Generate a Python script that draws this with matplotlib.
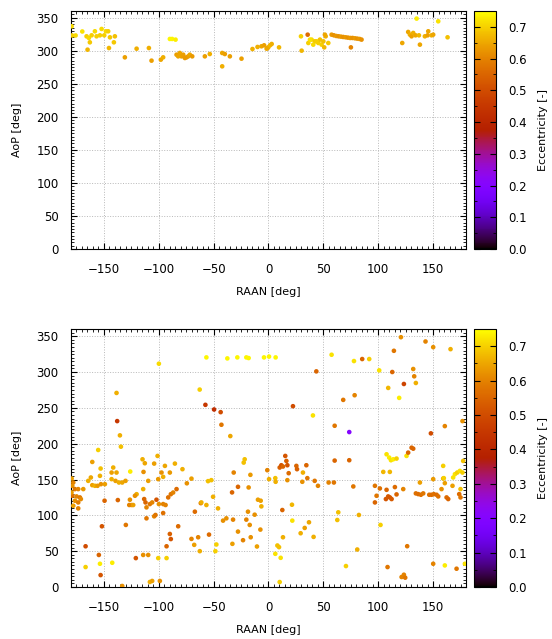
import numpy as np
import matplotlib
matplotlib.use("Agg")
import matplotlib.pyplot as plt
from matplotlib.ticker import MultipleLocator

# ---------------- data ----------------
# top panel
raan_top = [-179.4, -179.0, -175.8, -169.7, -165.8, -163.7, -162.8, -164.9, -161.2, -158.2,
            -156.7, -153.6, -152.1, -149.7, -148.2, -146.1, -144.5, -145.4, -140.9, -140.0,
            -130.9, -120.2, -109.0, -106.6, -98.1, -96.0, -89.9, -87.8, -84.7,
            -83.8, -80.8, -77.7, -74.7, -73.2, -71.7, -69.5, -79.3, -76.2, -82.3,
            -58.0, -53.5, -42.2, -39.8, -35.2, -42.2, -24.6,
            -14.6, -10.0, -6.4, -4.0, -0.9, -0.2, 1.4, -1.7, 2.9, 9.6,
            29.6, 30.2, 35.7, 36.3, 39.3, 42.3, 45.4, 46.9, 48.4, 40.8, 37.8, 50.0, 52.1, 54.5,
            50.8, 43.9, 51.4,
            57.5, 59.6, 61.8, 63.9, 66.0, 68.1, 70.3, 72.4, 74.5, 76.6, 78.8, 80.9, 83.0, 84.8,
            75.1, 121.9, 127.3, 128.9, 130.4, 131.9, 134.0, 137.1, 138.0, 142.5, 145.6, 145.0,
            148.6, 150.1, 135.0, 154.7, 163.2]
aop_top = [336.9, 323.0, 323.0, 329.0, 321.7, 319.2, 312.6, 301.5, 323.2, 329.3,
           321.7, 323.2, 332.8, 323.2, 329.3, 329.3, 320.2, 304.0, 312.6, 321.7,
           289.9, 303.0, 304.0, 284.9, 286.4, 289.9, 317.7, 317.7, 316.7,
           293.9, 296.5, 293.9, 289.9, 291.4, 293.9, 291.4, 291.4, 288.9, 291.4,
           291.4, 294.9, 296.5, 294.9, 291.4, 276.3, 287.9,
           302.5, 305.6, 306.6, 308.1, 304.0, 305.0, 308.1, 303.0, 310.1, 305.0,
           321.7, 300.0, 324.2, 311.6, 316.7, 314.1, 311.6, 316.7, 309.1, 309.1, 316.7, 314.1,
           321.7, 311.6, 305.0, 314.1, 324.2,
           324.2, 323.2, 322.2, 321.7, 321.2, 320.7, 320.2, 319.7, 319.2, 319.2, 318.7, 318.2,
           317.7, 316.7,
           305.0, 311.6, 328.3, 324.2, 321.7, 326.8, 323.2, 323.2, 309.1, 321.7, 329.3, 323.2,
           323.2, 324.2, 348.5, 344.4, 320.2]
ecc_top = [0.71, 0.70, 0.71, 0.72, 0.70, 0.71, 0.69, 0.67, 0.70, 0.71,
           0.70, 0.70, 0.71, 0.70, 0.71, 0.70, 0.69, 0.67, 0.69, 0.68,
           0.64, 0.66, 0.66, 0.64, 0.65, 0.66, 0.74, 0.74, 0.73,
           0.64, 0.65, 0.64, 0.63, 0.64, 0.65, 0.63, 0.64, 0.63, 0.65,
           0.64, 0.66, 0.65, 0.64, 0.64, 0.66, 0.64,
           0.66, 0.66, 0.65, 0.64, 0.65, 0.66, 0.67, 0.65, 0.66, 0.67,
           0.70, 0.67, 0.56, 0.70, 0.71, 0.69, 0.70, 0.68, 0.70, 0.71, 0.72, 0.68, 0.66, 0.69,
           0.67, 0.70, 0.65,
           0.63, 0.62, 0.63, 0.62, 0.63, 0.62, 0.63, 0.62, 0.63, 0.62, 0.63, 0.62, 0.63, 0.62,
           0.60, 0.65, 0.65, 0.66, 0.64, 0.66, 0.65, 0.67, 0.65, 0.66, 0.65, 0.64,
           0.66, 0.65, 0.73, 0.72, 0.68]

# bottom panel
raan_bot = [-99.9, -138.5, -137.9, -135.4, -134.5, -155.2, -160.6, -153.0, -153.6, -141.5,
            -143.0, -138.5, -126.0, -114.8, -112.7, -101.1, -94.4, -89.9, -85.3, -78.4,
            -104.2, -97.5, -96.0, -100.5, -113.9, -109.6, -70.2, -74.4, -61.7,
            -179.4, -177.9, -178.8, -176.4, -173.4, -168.8, -178.8, -174.9, -171.9, -176.4,
            -173.4, -171.0, -173.4, -179.5, -177.9,
            -164.3, -161.9, -160.6, -158.2, -155.8, -152.7, -149.1, -143.0, -139.4, -136.3,
            -133.3, -130.3, -149.4, -137.3, -126.3, -124.8, -126.9, -123.3,
            -120.2, -121.7, -114.2, -113.3, -112.1, -111.2, -108.1, -106.0, -102.1, -99.9,
            -96.0, -93.8, -91.4, -89.0, -86.9, -83.8,
            -111.2, -104.2, -103.0, -96.0, -82.3, -89.9, -89.0, -92.9, -130.0, -151.8,
            -166.7, -154.6, -153.6, -166.7, -142.4, -153.0, -120.9, -114.2, -109.6, -100.5,
            -92.9, -133.3, -108.1, -106.0, -99.0, -67.1, -70.2, -67.7, -64.1, -62.6,
            -56.6, -37.5, -28.4, -20.2, -18.1, -4.1, 0.5, 6.5, -62.7, -57.5,
            -49.6, -43.6, -42.9, -34.8, 43.6, 22.3, 40.5, -21.7, -22.6, -31.7,
            -16.5, -27.8, -33.2, -18.1, -55.1, -52.1, -50.5, -61.2, -56.6, -46.0,
            -9.6, -7.1, -6.5, -41.4, -38.4, -32.3, -18.7, -20.2, -17.1, -12.6,
            -7.4, -27.8, -23.2, -32.9, -16.2, -10.5, -54.2, -47.5, -48.4,
            -1.1, 0.5, 6.2, 6.5, 17.2, 12.6, 21.4, 21.7,
            10.2, 11.7, 13.2, 15.3, 16.3, 17.2, 18.4, 25.4, 26.0, 31.4, 34.5, 35.4, 30.8, 42.1,
            45.1, 54.8,
            29.3, 33.0, 36.9, 41.1, 13.2, 6.2, 8.1, 9.6, 11.1, 10.2,
            57.5, 77.9, 85.4, 91.8, 100.9, 120.7, 114.3, 112.8, 109.1, 123.4,
            119.1, 131.9, 132.8, 134.3, 143.1, 150.1, 165.9, 68.1, 78.5, 60.3,
            73.6, 160.7, 148.0, 176.8, 60.3, 73.6, 59.6, 77.3, 82.4, 63.6,
            62.7, 80.9, 70.6, 102.1, 108.5, 126.4, 121.3, 123.4, 124.6, 150.1,
            160.7, 171.4, 179.0,
            97.0, 101.5, 107.6, 115.2, 122.8, 98.5, 97.0, 107.0, 109.1, 110.6,
            112.2, 116.7, 134.3, 136.5, 138.9, 141.0, 146.5, 148.6, 150.7, 153.2,
            154.7, 162.3, 163.8, 138.0, 150.1, 159.2, 160.7, 157.7, 167.7, 173.8,
            175.0, 175.0,
            107.6, 110.0, 111.6, 113.7, 116.7, 125.8, 127.3, 130.4, 131.9, 104.6, 110.6,
            169.9, 172.0, 174.4, 176.8, 168.3, 177.4, 159.2, 159.8]
aop_bot = [311.6, 270.8, 231.5, 211.6, 195.8, 191.2, 174.5, 165.3, 155.1, 166.7,
           159.7, 159.7, 161.1, 178.2, 172.7, 182.9, 169.0, 159.7, 172.2, 164.4,
           172.2, 159.7, 153.7, 150.5, 160.6, 148.1, 151.2, 144.7, 117.0,
           151.4, 145.8, 141.2, 136.6, 136.6, 136.6, 127.3, 126.4, 125.0, 120.4,
           118.0, 122.7, 109.7, 132.0, 113.4,
           148.1, 152.8, 142.1, 141.2, 141.2, 143.5, 143.5, 150.5, 148.1, 145.8,
           145.8, 148.1, 120.4, 121.3, 121.8, 114.4, 114.4, 114.4,
           129.5, 127.3, 136.6, 122.7, 118.0, 111.1, 115.7, 118.0, 121.8, 115.7,
           115.7, 114.4, 125.0, 129.5, 131.8, 136.6,
           95.8, 98.6, 100.5, 103.2, 84.7, 74.0, 66.9, 56.8, 86.6, 84.7,
           56.8, 44.7, 32.4, 27.8, 33.8, 16.6, 40.3, 44.7, 44.7, 40.3,
           40.3, 1.4, 7.0, 8.4, 8.4, 105.1, 67.1, 58.8, 69.4, 50.0,
           320.4, 319.0, 320.4, 320.4, 319.5, 320.4, 321.5, 320.4, 275.5, 254.2,
           247.7, 244.0, 226.4, 210.6, 300.9, 252.3, 239.4, 178.2, 173.6, 159.7,
           156.5, 139.8, 132.0, 138.9, 147.7, 149.1, 125.9, 118.0, 114.4, 109.7,
           121.8, 120.4, 112.5, 92.6, 95.8, 94.0, 105.1, 94.0, 86.6, 100.9,
           80.1, 77.3, 65.3, 60.2, 69.4, 56.5, 73.1, 59.3, 50.0,
           163.0, 150.5, 151.9, 146.8, 149.1, 107.4, 114.8, 92.6,
           166.7, 169.9, 168.1, 182.9, 175.9, 169.9, 158.8, 169.0, 164.4, 159.7, 169.9, 151.9,
           146.8, 148.1, 141.2, 145.8,
           75.0, 82.4, 90.3, 69.9, 69.4, 46.3, 57.9, 55.6, 40.7, 6.9,
           324.1, 315.3, 318.1, 318.1, 302.3, 348.6, 329.6, 300.0, 277.8, 283.3,
           263.9, 304.2, 294.0, 284.7, 342.6, 334.7, 331.9, 261.1, 267.6, 225.0,
           216.2, 224.5, 214.4, 231.5, 176.4, 176.9, 145.8, 140.3, 100.5, 104.2,
           93.5, 52.3, 29.2, 86.6, 27.8, 56.9, 13.9, 17.1, 13.0, 32.4,
           30.1, 25.5, 32.4,
           141.2, 137.5, 135.6, 139.4, 136.6, 127.3, 118.0, 122.7, 126.4, 125.0,
           122.7, 129.2, 130.6, 129.6, 128.7, 130.6, 128.7, 128.7, 129.6, 128.7,
           126.4, 125.0, 122.7, 145.8, 150.5, 151.4, 144.9, 136.6, 141.2, 129.6,
           125.0, 136.6,
           185.2, 180.6, 176.9, 178.2, 179.2, 182.9, 187.5, 194.4, 193.0, 160.6, 160.6,
           157.4, 159.7, 162.0, 159.7, 152.8, 175.9, 169.0, 151.9]
ecc_bot = [0.71, 0.66, 0.45, 0.66, 0.68, 0.70, 0.64, 0.68, 0.66, 0.66,
           0.64, 0.65, 0.73, 0.66, 0.65, 0.66, 0.65, 0.63, 0.66, 0.66,
           0.64, 0.62, 0.66, 0.63, 0.62, 0.64, 0.64, 0.62, 0.58,
           0.64, 0.60, 0.62, 0.58, 0.60, 0.63, 0.57, 0.60, 0.58, 0.62,
           0.59, 0.61, 0.60, 0.63, 0.64,
           0.66, 0.65, 0.64, 0.66, 0.63, 0.62, 0.64, 0.66, 0.64, 0.66,
           0.65, 0.64, 0.55, 0.55, 0.62, 0.63, 0.60, 0.64,
           0.66, 0.62, 0.66, 0.55, 0.55, 0.60, 0.58, 0.60, 0.52, 0.62,
           0.60, 0.60, 0.57, 0.58, 0.60, 0.56,
           0.58, 0.60, 0.58, 0.57, 0.56, 0.54, 0.52, 0.55, 0.58, 0.52,
           0.50, 0.55, 0.73, 0.70, 0.73, 0.52, 0.52, 0.62, 0.62, 0.70,
           0.70, 0.62, 0.66, 0.64, 0.62, 0.56, 0.60, 0.64, 0.60, 0.66,
           0.74, 0.74, 0.74, 0.74, 0.74, 0.74, 0.74, 0.74, 0.70, 0.45,
           0.42, 0.50, 0.58, 0.65, 0.55, 0.50, 0.72, 0.68, 0.68, 0.60,
           0.63, 0.55, 0.55, 0.62, 0.68, 0.68, 0.66, 0.66, 0.66, 0.66,
           0.64, 0.64, 0.66, 0.62, 0.62, 0.60, 0.62, 0.60, 0.62, 0.62,
           0.62, 0.62, 0.60, 0.64, 0.62, 0.64, 0.56, 0.70, 0.70,
           0.60, 0.66, 0.68, 0.66, 0.62, 0.55, 0.67, 0.72,
           0.54, 0.52, 0.55, 0.52, 0.54, 0.52, 0.56, 0.55, 0.54, 0.66, 0.55, 0.58,
           0.62, 0.58, 0.60, 0.60,
           0.66, 0.64, 0.65, 0.66, 0.66, 0.72, 0.68, 0.68, 0.72, 0.70,
           0.72, 0.72, 0.55, 0.70, 0.72, 0.62, 0.58, 0.55, 0.67, 0.48,
           0.73, 0.62, 0.60, 0.66, 0.60, 0.62, 0.66, 0.58, 0.60, 0.58,
           0.20, 0.60, 0.50, 0.62, 0.55, 0.55, 0.58, 0.58, 0.66, 0.68,
           0.68, 0.66, 0.70, 0.70, 0.58, 0.58, 0.60, 0.60, 0.58, 0.60,
           0.73, 0.58, 0.72,
           0.58, 0.57, 0.55, 0.56, 0.60, 0.58, 0.55, 0.52, 0.53, 0.52,
           0.53, 0.55, 0.57, 0.56, 0.57, 0.58, 0.57, 0.56, 0.57, 0.56,
           0.57, 0.56, 0.55, 0.64, 0.63, 0.66, 0.64, 0.62, 0.64, 0.56,
           0.58, 0.68,
           0.72, 0.73, 0.72, 0.73, 0.70, 0.72, 0.55, 0.55, 0.55, 0.67, 0.67,
           0.72, 0.70, 0.72, 0.70, 0.72, 0.68, 0.70, 0.70]

plt.rcParams['font.family'] = 'DejaVu Sans'
plt.rcParams['font.size'] = 8

fig = plt.figure(figsize=(5.52, 6.39), dpi=100)

panels = [
    (raan_top, aop_top, ecc_top, [0.1286, 0.6103, 0.7156, 0.3725]),
    (raan_bot, aop_bot, ecc_bot, [0.1286, 0.0814, 0.7156, 0.4037]),
]

for raan, aop, ecc, rect in panels:
    ax = fig.add_axes(rect)
    sc = ax.scatter(raan, aop, c=ecc, cmap='gnuplot', vmin=0, vmax=0.75,
                    s=11, linewidths=0, zorder=3)
    ax.set_xlim(-180, 180)
    ax.set_ylim(0, 360)
    ax.xaxis.set_major_locator(MultipleLocator(50))
    ax.xaxis.set_minor_locator(MultipleLocator(5))
    ax.yaxis.set_major_locator(MultipleLocator(50))
    ax.yaxis.set_minor_locator(MultipleLocator(5))
    ax.tick_params(which='both', direction='in', top=True, right=True, labelsize=8.5)
    ax.tick_params(which='major', length=4, width=0.8)
    ax.tick_params(which='minor', length=2, width=0.6)
    ax.tick_params(axis='x', pad=10)
    ax.tick_params(axis='y', pad=9)
    ax.grid(True, which='major', color='#b8b8b8', linestyle=':', linewidth=0.7, zorder=0)
    ax.set_axisbelow(True)
    ax.set_xlabel('RAAN [deg]', fontsize=8, labelpad=8)
    ax.set_ylabel('AoP [deg]', fontsize=8, labelpad=10)

    cax = fig.add_axes([0.8587, rect[1], 0.0399, rect[3]])
    cb = fig.colorbar(sc, cax=cax)
    cb.set_ticks(np.arange(0, 0.71, 0.1))
    cb.ax.yaxis.set_minor_locator(MultipleLocator(0.05))
    cb.ax.tick_params(which='both', direction='in', left=True, right=True, labelsize=8.5, pad=9)
    cb.ax.tick_params(which='major', length=4)
    cb.ax.tick_params(which='minor', length=2)
    cb.set_label('Eccentricity [-]', fontsize=8, labelpad=8)

fig.savefig('out.png', dpi=100)
